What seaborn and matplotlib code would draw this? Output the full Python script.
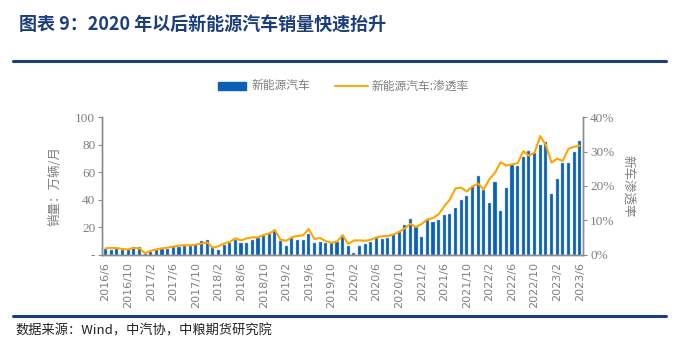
import numpy as np
import pandas as pd
import matplotlib
matplotlib.use("Agg")
import matplotlib.pyplot as plt
import seaborn as sns
from matplotlib.patches import Rectangle
from matplotlib.lines import Line2D

# 月度新能源汽车销量（万辆）和渗透率（%）
months = [d.strftime("%Y/%-m") for d in pd.date_range("2016-06-01", periods=85, freq="MS")]

sales = [
    4.1, 3.4, 4.1, 3.4, 3.4, 5.9, 5.9,
    1.0, 2.4, 3.4, 4.1, 4.6, 5.9, 5.6, 6.1, 6.3, 7.1, 10.2, 11.0,
    5.4, 3.9, 7.1, 8.5, 10.7, 8.8, 8.8, 10.5, 12.4, 13.9, 15.6, 18.3,
    9.8, 6.1, 12.4, 10.5, 11.0, 14.9, 8.3, 9.5, 8.8, 8.5, 9.7, 14.6,
    6.3, 1.7, 6.1, 8.0, 9.7, 12.4, 11.7, 12.2, 15.1, 16.8, 21.7, 25.8,
    20.2, 12.9, 25.1, 23.8, 25.1, 28.7, 29.9, 34.3, 39.7, 42.6, 48.9, 57.4,
    47.4, 37.7, 53.0, 31.6, 48.7, 65.2, 64.5, 71.3, 75.2, 73.7, 80.0, 82.0,
    44.3, 55.2, 66.9, 66.4, 74.4, 82.7,
]

penetration = [
    1.9, 2.0, 2.0, 1.7, 1.6, 2.0, 1.9,
    0.5, 1.2, 1.6, 1.9, 2.1, 2.4, 2.7, 2.8, 2.8, 3.0, 3.3, 3.6,
    2.1, 2.5, 3.3, 3.8, 4.8, 4.2, 4.8, 5.1, 5.1, 5.8, 6.2, 7.2,
    4.4, 4.1, 5.1, 5.5, 5.7, 7.5, 4.6, 4.9, 4.0, 3.5, 3.9, 5.7,
    3.2, 4.2, 4.2, 4.1, 4.4, 5.1, 5.4, 5.5, 5.9, 6.7, 7.7, 9.0,
    8.1, 9.0, 10.3, 10.7, 11.8, 14.1, 16.1, 19.3, 19.5, 18.4, 19.9, 20.7,
    19.0, 22.0, 23.9, 26.9, 25.9, 26.3, 26.6, 30.1, 28.8, 29.7, 34.5, 31.9,
    26.8, 27.9, 27.3, 30.8, 31.4, 31.7,
]

left_ticks = [0, 20, 40, 60, 80, 100]
left_labels = ["-", "20", "40", "60", "80", "100"]
right_ticks = [0, 10, 20, 30, 40]
right_labels = ["0%", "10%", "20%", "30%", "40%"]

df = pd.DataFrame({"month": months, "sales": sales, "rate": penetration})
df["pos"] = np.arange(len(df))

sns.set_style("white")
plt.rcParams["font.family"] = ["Noto Sans CJK SC", "DejaVu Sans"]

BAR = "#0B5FB4"
LINE = "#FFA500"
GREY = "#7F7F7F"
NAVY = "#1C3F7C"

fig = plt.figure(figsize=(7.0, 3.58), dpi=100)
ax = fig.add_axes([0.146, 0.288, 0.687, 0.385])

sns.barplot(data=df, x="month", y="sales", color=BAR, width=0.55,
            saturation=1, edgecolor="#9CC3EA", linewidth=0.3, ax=ax)
ax.set_ylim(0, 100)
ax.set_xlim(-0.6, len(df) - 0.4)
ax.set_yticks(left_ticks)
ax.set_yticklabels(left_labels, family="Liberation Serif", fontsize=9.5, color=GREY)
ax.set_xticks(df["pos"][::4])
ax.set_xticklabels(df["month"][::4], rotation=90, fontsize=8, color=GREY,
                   family="DejaVu Sans")
ax.set_xlabel("")
ax.set_ylabel("销量：万辆/月", fontsize=9, color=GREY, labelpad=10)

ax2 = ax.twinx()
sns.lineplot(data=df, x="pos", y="rate", color=LINE, linewidth=1.5, ax=ax2)
ax2.set_ylim(0, 40)
ax2.set_yticks(right_ticks)
ax2.set_yticklabels(right_labels, family="Liberation Serif", fontsize=9.5, color=GREY)
ax2.set_ylabel("新车渗透率", fontsize=9, color=GREY, rotation=270, labelpad=14)
ax2.set_xlabel("")

for a in (ax, ax2):
    a.spines["top"].set_visible(False)
    for side in ("left", "right", "bottom"):
        a.spines[side].set_color("#8C8C8C")
        a.spines[side].set_linewidth(1.0)
    a.tick_params(axis="both", direction="out", length=3, width=0.8,
                  color="#8C8C8C", pad=2)
    a.grid(False)

# 标题、分隔线、图例、来源
fig.text(0.027, 0.93, "图表 9：2020 年以后新能源汽车销量快速抬升", fontsize=13,
         fontweight="bold", color=NAVY, va="center", ha="left")
fig.add_artist(Line2D([0.019, 0.952], [0.829, 0.829], color=NAVY, linewidth=2.2))
fig.add_artist(Line2D([0.019, 0.952], [0.117, 0.117], color=NAVY, linewidth=2.2))

fig.add_artist(Rectangle((0.311, 0.749), 0.041, 0.022, color=BAR,
                         transform=fig.transFigure))
fig.text(0.360, 0.760, "新能源汽车", fontsize=8.5, color=GREY, va="center")
fig.add_artist(Line2D([0.479, 0.526], [0.760, 0.760], color=LINE, linewidth=1.4))
fig.text(0.531, 0.760, "新能源汽车:渗透率", fontsize=8.5, color=GREY, va="center")

fig.text(0.022, 0.075, "数据来源：Wind，中汽协，中粮期货研究院", fontsize=9.5,
         style="italic", color="#222222", va="center")

fig.savefig("out.png", dpi=100)
